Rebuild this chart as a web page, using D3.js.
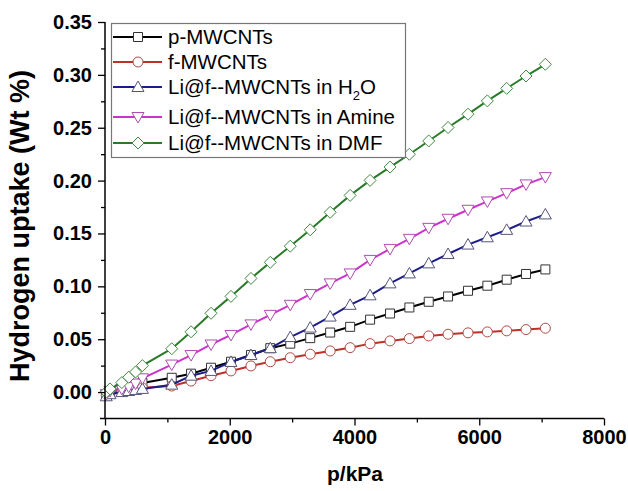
<!DOCTYPE html>
<html>
<head>
<meta charset="utf-8">
<script src="https://cdn.jsdelivr.net/npm/d3@7"></script>
<style>
  body { margin: 0; background: #fff; }
  text { font-family: "Liberation Sans", Arial, sans-serif; }
</style>
</head>
<body>
<script>
var width = 628, height = 491

// pressure points (kPa), shared by every series
var pressure = [20, 80, 270, 380, 490, 600, 1070, 1380, 1700, 2020, 2340, 2650, 2970, 3290,
  3610, 3930, 4250, 4570, 4880, 5190, 5500, 5820, 6130, 6440, 6750, 7060];

var pMWCNTs = [-0.003, 0.000, 0.004, 0.006, 0.007, 0.0085, 0.0135, 0.0174, 0.023, 0.0287, 0.0351, 0.0415, 0.0458,
  0.051, 0.0563, 0.0617, 0.0685, 0.0743, 0.080, 0.0854, 0.0904, 0.0958, 0.1006, 0.1063, 0.1117, 0.116];
var fMWCNTs = [-0.003, -0.001, 0.001, 0.002, 0.003, 0.004, 0.0057, 0.0104, 0.0155, 0.020, 0.0247, 0.0287, 0.0325,
  0.0358, 0.0389, 0.042, 0.0458, 0.0484, 0.0506, 0.0531, 0.0547, 0.056, 0.0569, 0.0579, 0.0591, 0.0604];
var liH2O = [-0.004, -0.002, 0.000, 0.001, 0.002, 0.003, 0.007, 0.0155, 0.020, 0.0285, 0.035, 0.0415, 0.052,
  0.061, 0.0714, 0.0825, 0.0915, 0.1028, 0.1122, 0.1217, 0.1306, 0.1395, 0.1464, 0.1534, 0.1613, 0.168];
var liAmine = [-0.002, 0.001, 0.003, 0.005, 0.008, 0.013, 0.026, 0.035, 0.045, 0.054, 0.064, 0.073, 0.0825,
  0.0927, 0.1028, 0.1122, 0.125, 0.1354, 0.1449, 0.1553, 0.1639, 0.1724, 0.1803, 0.1881, 0.1964, 0.2033];
var liDMF = [0.000, 0.003, 0.009, 0.014, 0.019, 0.025, 0.041, 0.057, 0.0745, 0.0905, 0.1075, 0.1227, 0.138,
  0.1535, 0.170, 0.186, 0.2002, 0.2128, 0.2249, 0.2375, 0.2502, 0.2628, 0.2754, 0.2872, 0.2989, 0.310];

var xTicks = [0, 2000, 4000, 6000, 8000];
var yTicks = [0.00, 0.05, 0.10, 0.15, 0.20, 0.25, 0.30, 0.35];

var series = [
  {name: "p-MWCNTs", values: pMWCNTs, line: "#000000", mark: "#333333", shape: "square"},
  {name: "f-MWCNTs", values: fMWCNTs, line: "#c0302a", mark: "#b04a44", shape: "circle"},
  {name: "Li@f--MWCNTs in H2O", values: liH2O, line: "#1c1c8a", mark: "#55557a", shape: "up"},
  {name: "Li@f--MWCNTs in Amine", values: liAmine, line: "#cc33cc", mark: "#b04cb0", shape: "down"},
  {name: "Li@f--MWCNTs in DMF", values: liDMF, line: "#2a7a2a", mark: "#3f8a3f", shape: "diamond"}
];

var svg = d3.select("body")
    .append("svg")
    .attr("width", width)
    .attr("height", height);

var x = d3.scaleLinear().domain([0, 8000]).range([105, 604]);
var y = d3.scaleLinear().domain([-0.025, 0.35]).range([418.5, 22]);

// marker paths centred on 0,0
function shapePath(s) {
  if (s == "square") return "M-4.5,-4.5H4.5V4.5H-4.5Z";
  if (s == "circle") return "M-5,0A5,5 0 1,0 5,0A5,5 0 1,0 -5,0Z";
  if (s == "up") return "M0,-6L6,4.5L-6,4.5Z";
  if (s == "down") return "M0,6L6,-4.5L-6,-4.5Z";
  return "M0,-6L6,0L0,6L-6,0Z";
}

var line = d3.line()
    .x(function(d) { return x(d[0]); })
    .y(function(d) { return y(d[1]); });

series.forEach(function(s) {
  var pts = pressure.map(function(p, i) { return [p, s.values[i]]; });
  svg.append("path")
      .datum(pts)
      .attr("d", line)
      .attr("fill", "none")
      .attr("stroke", s.line)
      .attr("stroke-width", 2);
  svg.selectAll(null)
      .data(pts)
    .enter().append("path")
      .attr("d", shapePath(s.shape))
      .attr("transform", function(d) { return "translate(" + x(d[0]) + "," + y(d[1]) + ")"; })
      .attr("fill", "#fff")
      .attr("stroke", s.mark)
      .attr("stroke-width", 1);
});

// axes
var xAxis = svg.append("g")
    .attr("transform", "translate(0,418.5)")
    .call(d3.axisBottom(x).tickValues(xTicks).tickSize(7).tickPadding(4).tickFormat(d3.format("d")));
svg.append("g")
    .attr("transform", "translate(0,418.5)")
    .call(d3.axisBottom(x).tickValues([1000, 3000, 5000, 7000]).tickSize(4).tickFormat(""))
    .select(".domain").remove();

var yAxis = svg.append("g")
    .attr("transform", "translate(105,0)")
    .call(d3.axisLeft(y).tickValues(yTicks).tickSize(7).tickPadding(6).tickFormat(d3.format(".2f")));
svg.append("g")
    .attr("transform", "translate(105,0)")
    .call(d3.axisLeft(y).tickValues([0.025, 0.075, 0.125, 0.175, 0.225, 0.275, 0.325]).tickSize(4).tickFormat(""))
    .select(".domain").remove();

svg.selectAll(".domain").attr("stroke", "#000").attr("stroke-width", 1.5);
xAxis.select(".domain").attr("d", "M100,0H604");
yAxis.select(".domain").attr("d", "M0,22V418.5");
svg.selectAll(".tick line").attr("stroke", "#000").attr("stroke-width", 1.3);
svg.selectAll(".tick text")
    .attr("fill", "#000")
    .style("font-size", "20px")
    .style("font-weight", "bold")
    .style("font-family", "'Liberation Sans', Arial, sans-serif");

svg.append("text")
    .attr("x", 355)
    .attr("y", 481)
    .attr("text-anchor", "middle")
    .style("font-size", "21px")
    .style("font-weight", "bold")
    .text("p/kPa");

svg.append("text")
    .attr("transform", "translate(29,226) rotate(-90)")
    .attr("text-anchor", "middle")
    .style("font-size", "27px")
    .style("font-weight", "bold")
    .text("Hydrogen uptake (Wt %)");

// legend
var legend = svg.append("g");
legend.append("rect")
    .attr("x", 111.5).attr("y", 23.5)
    .attr("width", 294).attr("height", 134)
    .attr("fill", "#fff")
    .attr("stroke", "#777")
    .attr("stroke-width", 1.2);

var rowY = [37, 62, 87, 117, 143];
series.forEach(function(s, i) {
  var g = legend.append("g").attr("transform", "translate(0," + rowY[i] + ")");
  g.append("line")
      .attr("x1", 113).attr("x2", 162)
      .attr("stroke", s.line).attr("stroke-width", 2);
  g.append("path")
      .attr("d", shapePath(s.shape))
      .attr("transform", "translate(138,0)")
      .attr("fill", "#fff")
      .attr("stroke", s.mark);
  var t = g.append("text")
      .attr("x", 168).attr("y", 7)
      .style("font-size", "20.5px");
  if (s.name.indexOf("H2O") >= 0) {
    t.append("tspan").text("Li@f--MWCNTs in H");
    t.append("tspan").attr("dy", 6).style("font-size", "13px").text("2");
    t.append("tspan").attr("dy", -6).text("O");
  } else {
    t.text(s.name);
  }
});
</script>
</body>
</html>
